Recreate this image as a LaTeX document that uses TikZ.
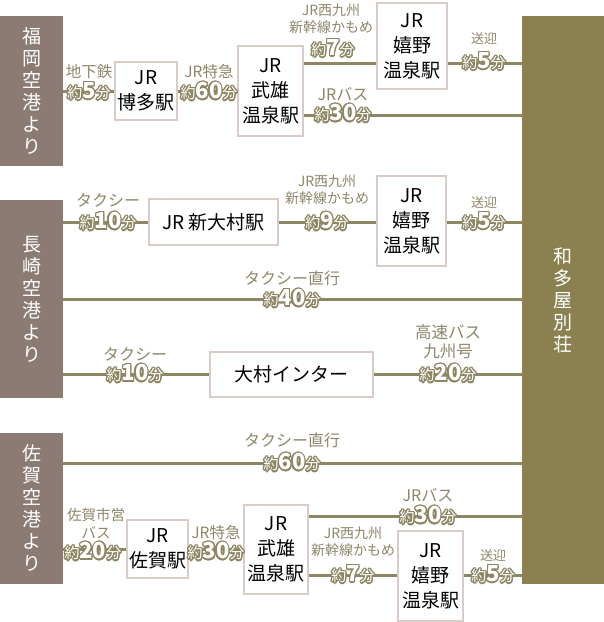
\documentclass[tikz,border=0pt]{standalone}
\usepackage{fontspec}
\setmainfont{Noto Sans CJK JP}
\usepackage{xcolor}
\usepackage{contour}
\contourlength{1.3pt}
\usepackage{tikz}

\definecolor{airport}{HTML}{8C7B72}
\definecolor{hotel}{HTML}{8A8050}
\definecolor{routeline}{HTML}{8D8663}
\definecolor{labelgray}{HTML}{8C8669}
\definecolor{boxline}{HTML}{D9CBC6}

\tikzset{
  airportbox/.style={fill=airport, text=white, minimum width=63pt, align=center, inner sep=0pt, font=\fontsize{19}{22}\selectfont},
  stationbox/.style={draw=boxline, line width=1.5pt, fill=white, align=center, inner sep=0pt, font=\fontsize{19}{25}\selectfont},
  route/.style={draw=routeline, line width=3pt},
  via/.style={text=labelgray, align=center, inner sep=0pt, font=\fontsize{15.5}{17}\selectfont},
  mins/.style={inner sep=0pt}
}
\newcommand{\trip}[1]{{\color{white}\contour{routeline}{{\fontsize{15}{15}\selectfont 約}{\fontsize{22}{22}\selectfont\bfseries #1}{\fontsize{15}{15}\selectfont 分}}}}

\begin{document}
\begin{tikzpicture}[x=1pt, y=-1pt]
\useasboundingbox (0,0) rectangle (604,622);

% origins and destination
\node[airportbox, minimum height=150pt] (fuk) at (31.5,91) {福\\岡\\空\\港\\よ\\り};
\node[airportbox, minimum height=198pt] (nag) at (31.5,299) {長\\崎\\空\\港\\よ\\り};
\node[airportbox, minimum height=151pt] (saga) at (31.5,508.5) {佐\\賀\\空\\港\\よ\\り};
\node[airportbox, fill=hotel, minimum width=82pt, minimum height=568pt] (wata) at (563,300) {和\\多\\屋\\別\\荘};

% stations
\node[stationbox, minimum width=62pt, minimum height=58pt] (hakata) at (146,91) {JR\\博多駅};
\node[stationbox, minimum width=65pt, minimum height=90pt] (takeoA) at (270.5,91) {JR\\武雄\\温泉駅};
\node[stationbox, minimum width=70pt, minimum height=86pt] (ureA) at (412,46) {JR\\嬉野\\温泉駅};
\node[stationbox, minimum width=129pt, minimum height=46pt] (shinomura) at (213.5,222) {JR 新大村駅};
\node[stationbox, minimum width=69pt, minimum height=90pt] (ureB) at (411.5,221) {JR\\嬉野\\温泉駅};
\node[stationbox, minimum width=163pt, minimum height=45pt] (omuraic) at (291.5,374.5) {大村インター};
\node[stationbox, minimum width=61pt, minimum height=58pt] (sagast) at (157.5,549) {JR\\佐賀駅};
\node[stationbox, minimum width=64pt, minimum height=89pt] (takeoC) at (276,549.5) {JR\\武雄\\温泉駅};
\node[stationbox, minimum width=65pt, minimum height=90pt] (ureC) at (430.5,576) {JR\\嬉野\\温泉駅};

\coordinate (rowA) at (0,63);
\coordinate (rowB) at (0,115);
\coordinate (rowC) at (0,299);
\coordinate (rowD) at (0,463);
\coordinate (rowE) at (0,516);
\coordinate (rowF) at (0,575);

% Fukuoka
\draw[route] (fuk.east |- hakata.west) -- (hakata.west);
\draw[route] (hakata.east) -- (takeoA.west |- hakata.east);
\draw[route] (takeoA.east |- rowA) -- (ureA.west |- rowA);
\draw[route] (ureA.east |- rowA) -- (wata.west |- rowA);
\draw[route] (takeoA.east |- rowB) -- (wata.west |- rowB);
\node[via] (vA1) at (89,72) {地下鉄};
\node[mins] (tA1) at (89,92) {\trip{5}};
\node[via] (vA2) at (209,72) {JR特急};
\node[mins] (tA2) at (209,92) {\trip{60}};
\node[via, font=\fontsize{14}{17}\selectfont] (vA3) at (331,19) {JR西九州\\新幹線かもめ};
\node[mins] (tA3) at (333,49) {\trip{7}};
\node[via, font=\fontsize{13}{17}\selectfont] (vA4) at (484,38) {送迎};
\node[mins] (tA4) at (484,62) {\trip{5}};
\node[via, font=\fontsize{16}{17}\selectfont] (vA5) at (343,94) {JRバス};
\node[mins] (tA5) at (343,114) {\trip{30}};

% Nagasaki
\draw[route] (nag.east |- shinomura.west) -- (shinomura.west);
\draw[route] (shinomura.east) -- (ureB.west |- shinomura.east);
\draw[route] (ureB.east |- shinomura.east) -- (wata.west |- shinomura.east);
\draw[route] (nag.east |- rowC) -- (wata.west |- rowC);
\draw[route] (nag.east |- omuraic.west) -- (omuraic.west);
\draw[route] (omuraic.east) -- (wata.west |- omuraic.east);
\node[via, font=\fontsize{16}{17}\selectfont] (vB1) at (108,200) {タクシー};
\node[mins] (tB1) at (108,222) {\trip{10}};
\node[via, font=\fontsize{14}{17}\selectfont] (vB2) at (327,190) {JR西九州\\新幹線かもめ};
\node[mins] (tB2) at (327,222) {\trip{9}};
\node[via, font=\fontsize{13}{17}\selectfont] (vB3) at (484,202) {送迎};
\node[mins] (tB3) at (484,222) {\trip{5}};
\node[via, font=\fontsize{16}{17}\selectfont] (vB4) at (292,278) {タクシー直行};
\node[mins] (tB4) at (292,299) {\trip{40}};
\node[via, font=\fontsize{16}{17}\selectfont] (vB5) at (135,354) {タクシー};
\node[mins] (tB5) at (135,374) {\trip{10}};
\node[via, font=\fontsize{16.5}{19}\selectfont] (vB6) at (448,342) {高速バス\\九州号};
\node[mins] (tB6) at (448,374) {\trip{20}};

% Saga
\draw[route] (saga.east |- rowD) -- (wata.west |- rowD);
\draw[route] (saga.east |- sagast.west) -- (sagast.west);
\draw[route] (sagast.east) -- (takeoC.west |- sagast.east);
\draw[route] (takeoC.east |- rowE) -- (wata.west |- rowE);
\draw[route] (takeoC.east |- rowF) -- (ureC.west |- rowF);
\draw[route] (ureC.east |- rowF) -- (wata.west |- rowF);
\node[via, font=\fontsize{16}{17}\selectfont] (vC1) at (292,440) {タクシー直行};
\node[mins] (tC1) at (292,463) {\trip{60}};
\node[via, font=\fontsize{14.5}{18}\selectfont] (vC2) at (96,524) {佐賀市営\\バス};
\node[mins] (tC2) at (93,552) {\trip{20}};
\node[via] (vC3) at (216,533) {JR特急};
\node[mins] (tC3) at (216,552) {\trip{30}};
\node[via, font=\fontsize{16}{17}\selectfont] (vC4) at (428,495) {JRバス};
\node[mins] (tC4) at (428,516) {\trip{30}};
\node[via, font=\fontsize{14}{17}\selectfont] (vC5) at (353,542) {JR西九州\\新幹線かもめ};
\node[mins] (tC5) at (353,575) {\trip{7}};
\node[via, font=\fontsize{13}{17}\selectfont] (vC6) at (493,555) {送迎};
\node[mins] (tC6) at (493,575) {\trip{5}};

\end{tikzpicture}
\end{document}
